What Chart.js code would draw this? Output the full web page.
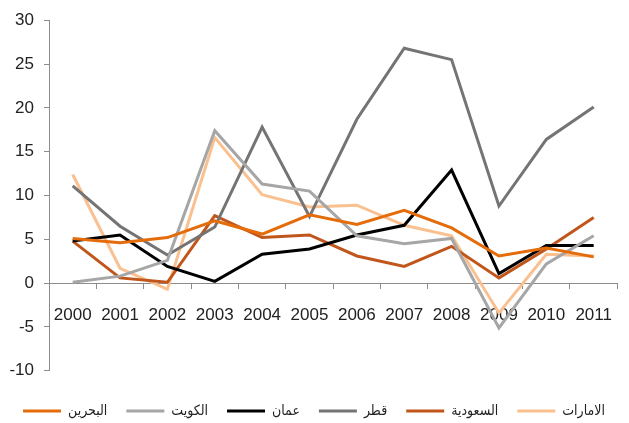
<!DOCTYPE html>
<html lang="ar">
<head>
<meta charset="UTF-8">
<title>نمو</title>
<style>
  body { margin: 0; background: #fff; }
  #wrap { width: 629px; height: 423px; }
</style>
</head>
<body>
<div id="wrap"><canvas id="myChart"></canvas></div>

<script src="https://cdn.jsdelivr.net/npm/chart.js"></script>
<script>
    // years on the x axis
    const years = ['2000', '2001', '2002', '2003', '2004', '2005', '2006', '2007', '2008', '2009', '2010', '2011'];

    // values
    const bahrain = [5.1, 4.6, 5.2, 7.1, 5.6, 7.8, 6.7, 8.3, 6.3, 3.1, 4.0, 3.0];
    const kuwait  = [0.1, 0.8, 2.6, 17.4, 11.3, 10.5, 5.4, 4.5, 5.1, -5.1, 2.2, 5.4];
    const oman    = [4.8, 5.5, 1.9, 0.2, 3.3, 3.9, 5.5, 6.6, 12.9, 1.1, 4.3, 4.3];
    const qatar   = [11.1, 6.5, 3.2, 6.4, 17.8, 7.6, 18.7, 26.8, 25.5, 8.8, 16.4, 20.1];
    const saudi   = [4.8, 0.6, 0.1, 7.7, 5.2, 5.5, 3.1, 1.9, 4.2, 0.6, 3.9, 7.5];
    const uae     = [12.4, 1.7, -0.7, 16.6, 10.1, 8.7, 8.9, 6.6, 5.4, -3.4, 3.3, 3.1];

    const names = ['البحرين', 'الكويت', 'عمان', 'قطر', 'السعودية', 'الامارات'];
    const colors = ['#e46c0a', '#a6a6a6', '#000000', '#747474', '#c0561b', '#fac090'];
    const series = [bahrain, kuwait, oman, qatar, saudi, uae];

    let v_datasets = [];
    for (let i = 0; i < series.length; i++) {
        v_datasets.push({
            label: names[i],
            data: series[i],
            borderColor: colors[i],
            backgroundColor: colors[i],
            borderWidth: 3,
            pointRadius: 0,
            tension: 0
        });
    }

    const axisColor = '#8c8c8c';
    const tickFont = { family: "'Liberation Sans', Arial, sans-serif", size: 17 };

    const ctx = document.getElementById('myChart');

    new Chart(ctx, {
        type: 'line',
        data: {
            labels: years,
            datasets: v_datasets
        },
        options: {
            responsive: true,
            maintainAspectRatio: false,
            animation: false,
            layout: {
                padding: { top: 19, right: 1, left: 0, bottom: -5 }
            },
            scales: {
                x: {
                    position: { y: 0 },
                    offset: true,
                    grid: {
                        offset: true,
                        drawOnChartArea: false,
                        drawTicks: true,
                        tickLength: 5,
                        color: axisColor
                    },
                    border: { color: axisColor, width: 1 },
                    ticks: {
                        color: '#222',
                        font: tickFont,
                        padding: 17,
                        maxRotation: 0,
                        autoSkip: false
                    },
                    afterFit: (scale) => { scale.height = 0; }
                },
                y: {
                    min: -10,
                    max: 30,
                    ticks: {
                        stepSize: 5,
                        color: '#222',
                        font: tickFont,
                        padding: 10
                    },
                    grid: {
                        drawOnChartArea: false,
                        drawTicks: true,
                        tickLength: 5,
                        color: axisColor
                    },
                    border: { color: axisColor, width: 1 },
                    afterFit: (scale) => { scale.width = 49; }
                }
            },
            plugins: {
                legend: {
                    position: 'bottom',
                    // empty title only pushes the row of keys down
                    title: {
                        display: true,
                        text: '',
                        font: { size: 1 },
                        padding: { top: 13, bottom: 0 }
                    },
                    labels: {
                        color: '#222',
                        font: { family: "'DejaVu Sans Condensed', 'DejaVu Sans', sans-serif", size: 14 },
                        boxWidth: 38,
                        boxHeight: 3,
                        padding: 19,
                        generateLabels: (chart) => {
                            const items = Chart.defaults.plugins.legend.labels.generateLabels(chart);
                            items.forEach(it => { it.lineWidth = 0; });
                            return items;
                        }
                    }
                },
                tooltip: { enabled: false }
            }
        }
    });
</script>
</body>
</html>
